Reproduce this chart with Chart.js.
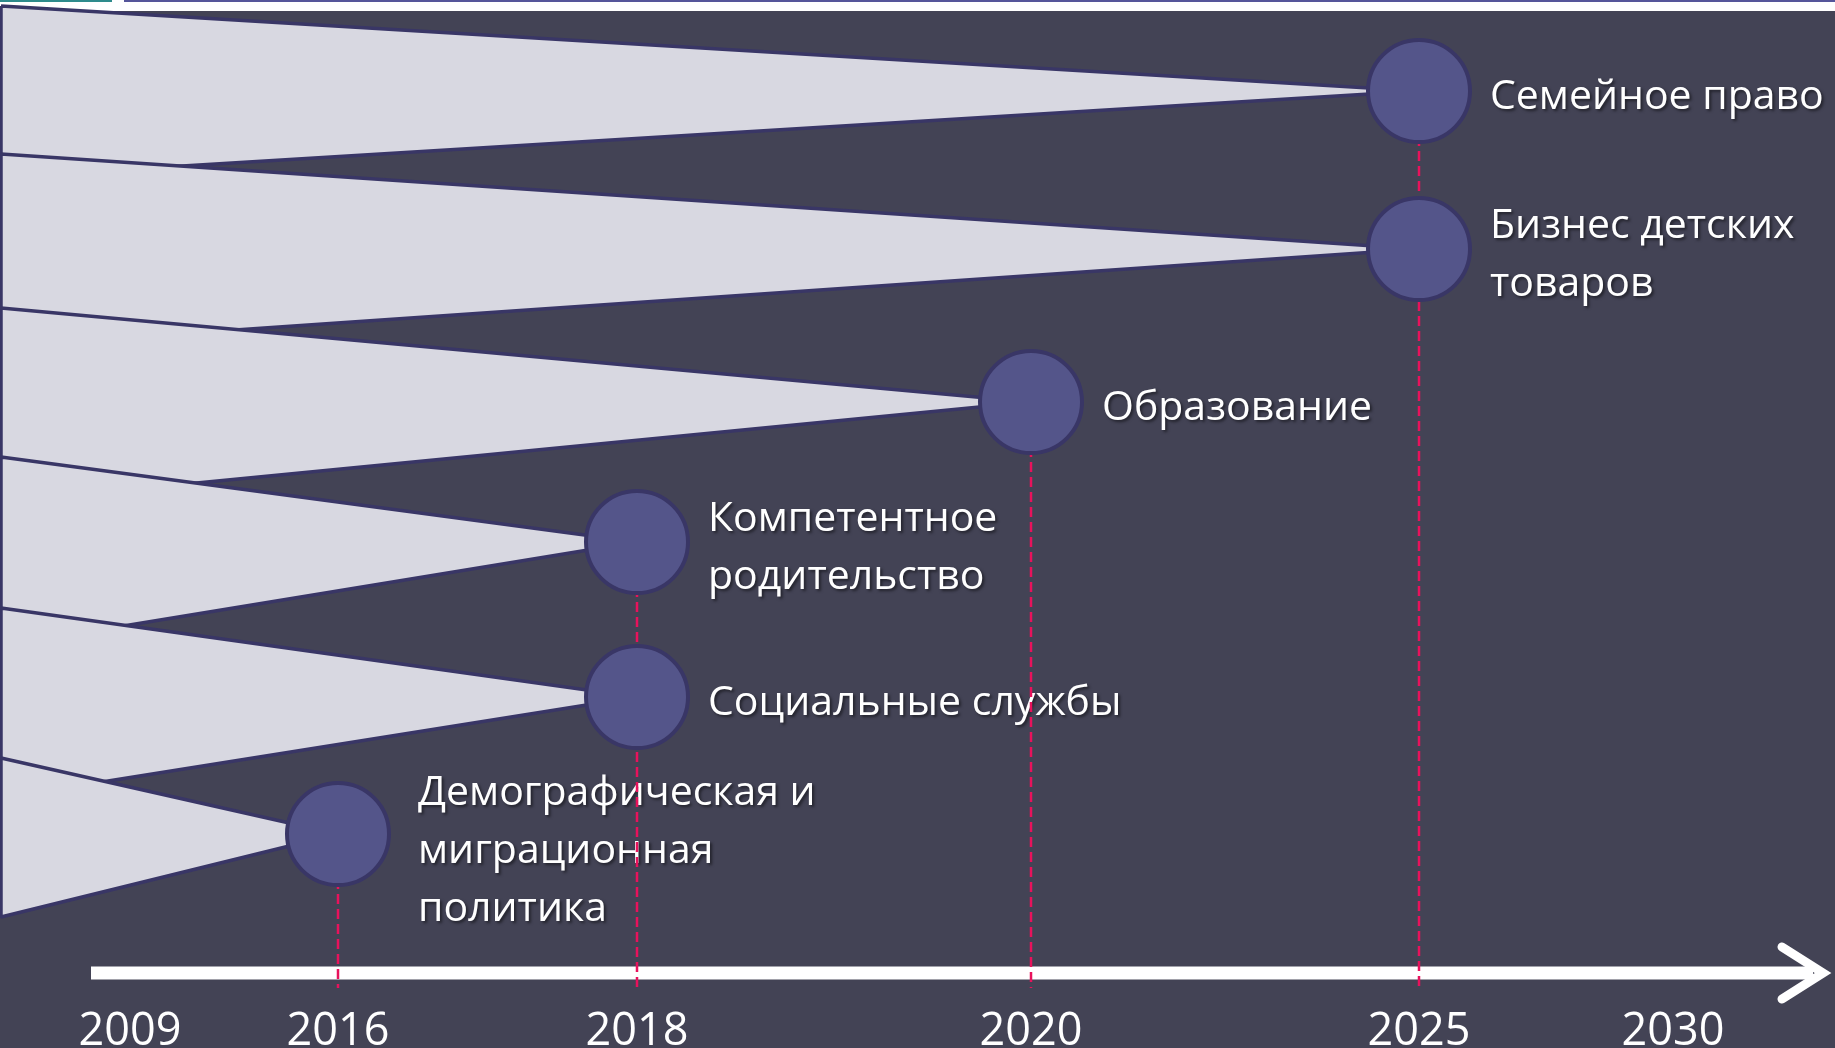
<!DOCTYPE html>
<html lang="ru">
<head>
<meta charset="utf-8">
<title>Направления до 2030</title>
<script src="https://cdn.jsdelivr.net/npm/chart.js@4.4.1/dist/chart.umd.min.js"></script>
<style>
  html, body { margin: 0; padding: 0; background: #ffffff; overflow: hidden; }
  #wrap { position: relative; width: 1835px; height: 1048px; }
</style>
</head>
<body>
<div id="wrap"><canvas id="chart"></canvas></div>
<script>
// ---- данные ----
const years = ['2009', '2016', '2018', '2020', '2025', '2030'];
const yearPos = [129, 337, 636, 1030, 1418, 1672];   // место года на шкале времени

const topics = [
  ['Семейное право'],
  ['Бизнес детских', 'товаров'],
  ['Образование'],
  ['Компетентное', 'родительство'],
  ['Социальные службы'],
  ['Демографическая и', 'миграционная', 'политика']
];
const topicYear = ['2025', '2025', '2020', '2018', '2018', '2016'];
const topicLevel = [91, 249, 402, 542, 697, 834];
// раскрытие «клина» у левого края
const wedgeTop = [6, 154, 308, 457, 608, 758];
const wedgeBottom = [177, 346, 502, 646, 798, 917];
const dropLevel = 988;   // докуда опускается пунктир

// ---- цвета ----
const BG = '#434355';
const WEDGE = '#D8D8E1';
const EDGE = '#393666';
const DOT = '#54558A';
const DASH = '#E8125C';
const TEXT = '#FFFFFF';

const yearX = (yr) => yearPos[years.indexOf(yr)];

// фон, ось со стрелкой и подписи
const timelineDecor = {
  id: 'timelineDecor',
  beforeDraw(chart) {
    const { ctx, width, height } = chart;
    ctx.save();
    ctx.fillStyle = '#ffffff';
    ctx.fillRect(0, 0, width, height);
    ctx.fillStyle = BG;
    ctx.fillRect(0, 11, width, height - 11);
    ctx.fillStyle = '#2E8B8C';
    ctx.fillRect(0, 0, 112, 2);
    ctx.fillStyle = '#55559A';
    ctx.fillRect(124, 0, width - 124, 2);
    ctx.restore();
  },
  beforeDatasetsDraw(chart) {
    const { ctx, scales: { x, y } } = chart;
    const ay = y.getPixelForValue(973);
    ctx.save();
    // ось времени
    ctx.strokeStyle = '#ffffff';
    ctx.lineWidth = 13;
    ctx.beginPath();
    ctx.moveTo(x.getPixelForValue(90), ay);
    ctx.lineTo(x.getPixelForValue(1812), ay);
    ctx.stroke();
    ctx.lineWidth = 9;
    ctx.lineCap = 'round';
    ctx.lineJoin = 'miter';
    ctx.beginPath();
    ctx.moveTo(x.getPixelForValue(1781), ay - 26);
    ctx.lineTo(x.getPixelForValue(1822), ay);
    ctx.lineTo(x.getPixelForValue(1781), ay + 26);
    ctx.stroke();

    // годы
    ctx.fillStyle = TEXT;
    ctx.font = '45px "Open Sans"';
    ctx.textAlign = 'center';
    ctx.textBaseline = 'alphabetic';
    years.forEach((yr, i) => {
      ctx.fillText(yr, x.getPixelForValue(yearPos[i]), y.getPixelForValue(1045));
    });

    // подписи направлений
    ctx.font = '41px "Open Sans"';
    ctx.textAlign = 'left';
    ctx.shadowColor = 'rgba(0, 0, 0, 0.5)';
    ctx.shadowOffsetX = 2;
    ctx.shadowOffsetY = 2;
    ctx.shadowBlur = 3;
    const lh = 58;
    topics.forEach((lines, i) => {
      const cx = x.getPixelForValue(yearX(topicYear[i]));
      const cy = y.getPixelForValue(topicLevel[i]);
      // трёхстрочная подпись сдвинута вниз, как в оригинале
      const shift = lines.length > 2 ? 11 : 0;
      const dx = lines.length > 2 ? 80 : 71;
      const first = cy + 17.5 - (lines.length - 1) * lh / 2 + shift;
      lines.forEach((t, k) => ctx.fillText(t, cx + dx, first + k * lh));
    });
    ctx.restore();
  }
};

// клинья: нижние рисуются поверх верхних
const wedgeSets = topics.map((t, i) => ({
  label: t.join(' '),
  data: [
    { x: 0, y: wedgeTop[i] },
    { x: yearX(topicYear[i]), y: topicLevel[i] },
    { x: 0, y: wedgeBottom[i] },
    { x: 0, y: wedgeTop[i] }
  ],
  fill: 'shape',
  backgroundColor: WEDGE,
  borderColor: EDGE,
  borderWidth: 3.5,
  borderJoinStyle: 'bevel',
  pointRadius: 0,
  tension: 0,
  order: 100 - i
}));

// пунктир от верхнего кружка года до оси
const markedYears = [...new Set(topicYear)];
const dropSets = markedYears.map((yr) => ({
  label: 'drop ' + yr,
  data: [
    { x: yearX(yr), y: Math.min(...topicLevel.filter((_, i) => topicYear[i] === yr)) },
    { x: yearX(yr), y: dropLevel }
  ],
  borderColor: DASH,
  borderWidth: 2.5,
  borderDash: [10, 5],
  pointRadius: 0,
  fill: false,
  order: 10
}));

const dotSet = {
  label: 'dots',
  data: topics.map((t, i) => ({ x: yearX(topicYear[i]), y: topicLevel[i] })),
  showLine: false,
  pointRadius: 51,
  pointBackgroundColor: DOT,
  pointBorderColor: EDGE,
  pointBorderWidth: 4,
  fill: false,
  order: 0
};

new Chart(document.getElementById('chart'), {
  type: 'line',
  data: { datasets: [...wedgeSets, ...dropSets, dotSet] },
  options: {
    responsive: true,
    maintainAspectRatio: false,
    animation: false,
    events: [],
    layout: { padding: 0, autoPadding: false },
    scales: {
      x: { type: 'linear', min: -1, max: 1834, display: false },
      y: { type: 'linear', min: 0, max: 1048, reverse: true, display: false }
    },
    plugins: {
      legend: { display: false },
      tooltip: { enabled: false },
      filler: { drawTime: 'beforeDatasetDraw' }
    }
  },
  plugins: [timelineDecor]
});
</script>
</body>
</html>
